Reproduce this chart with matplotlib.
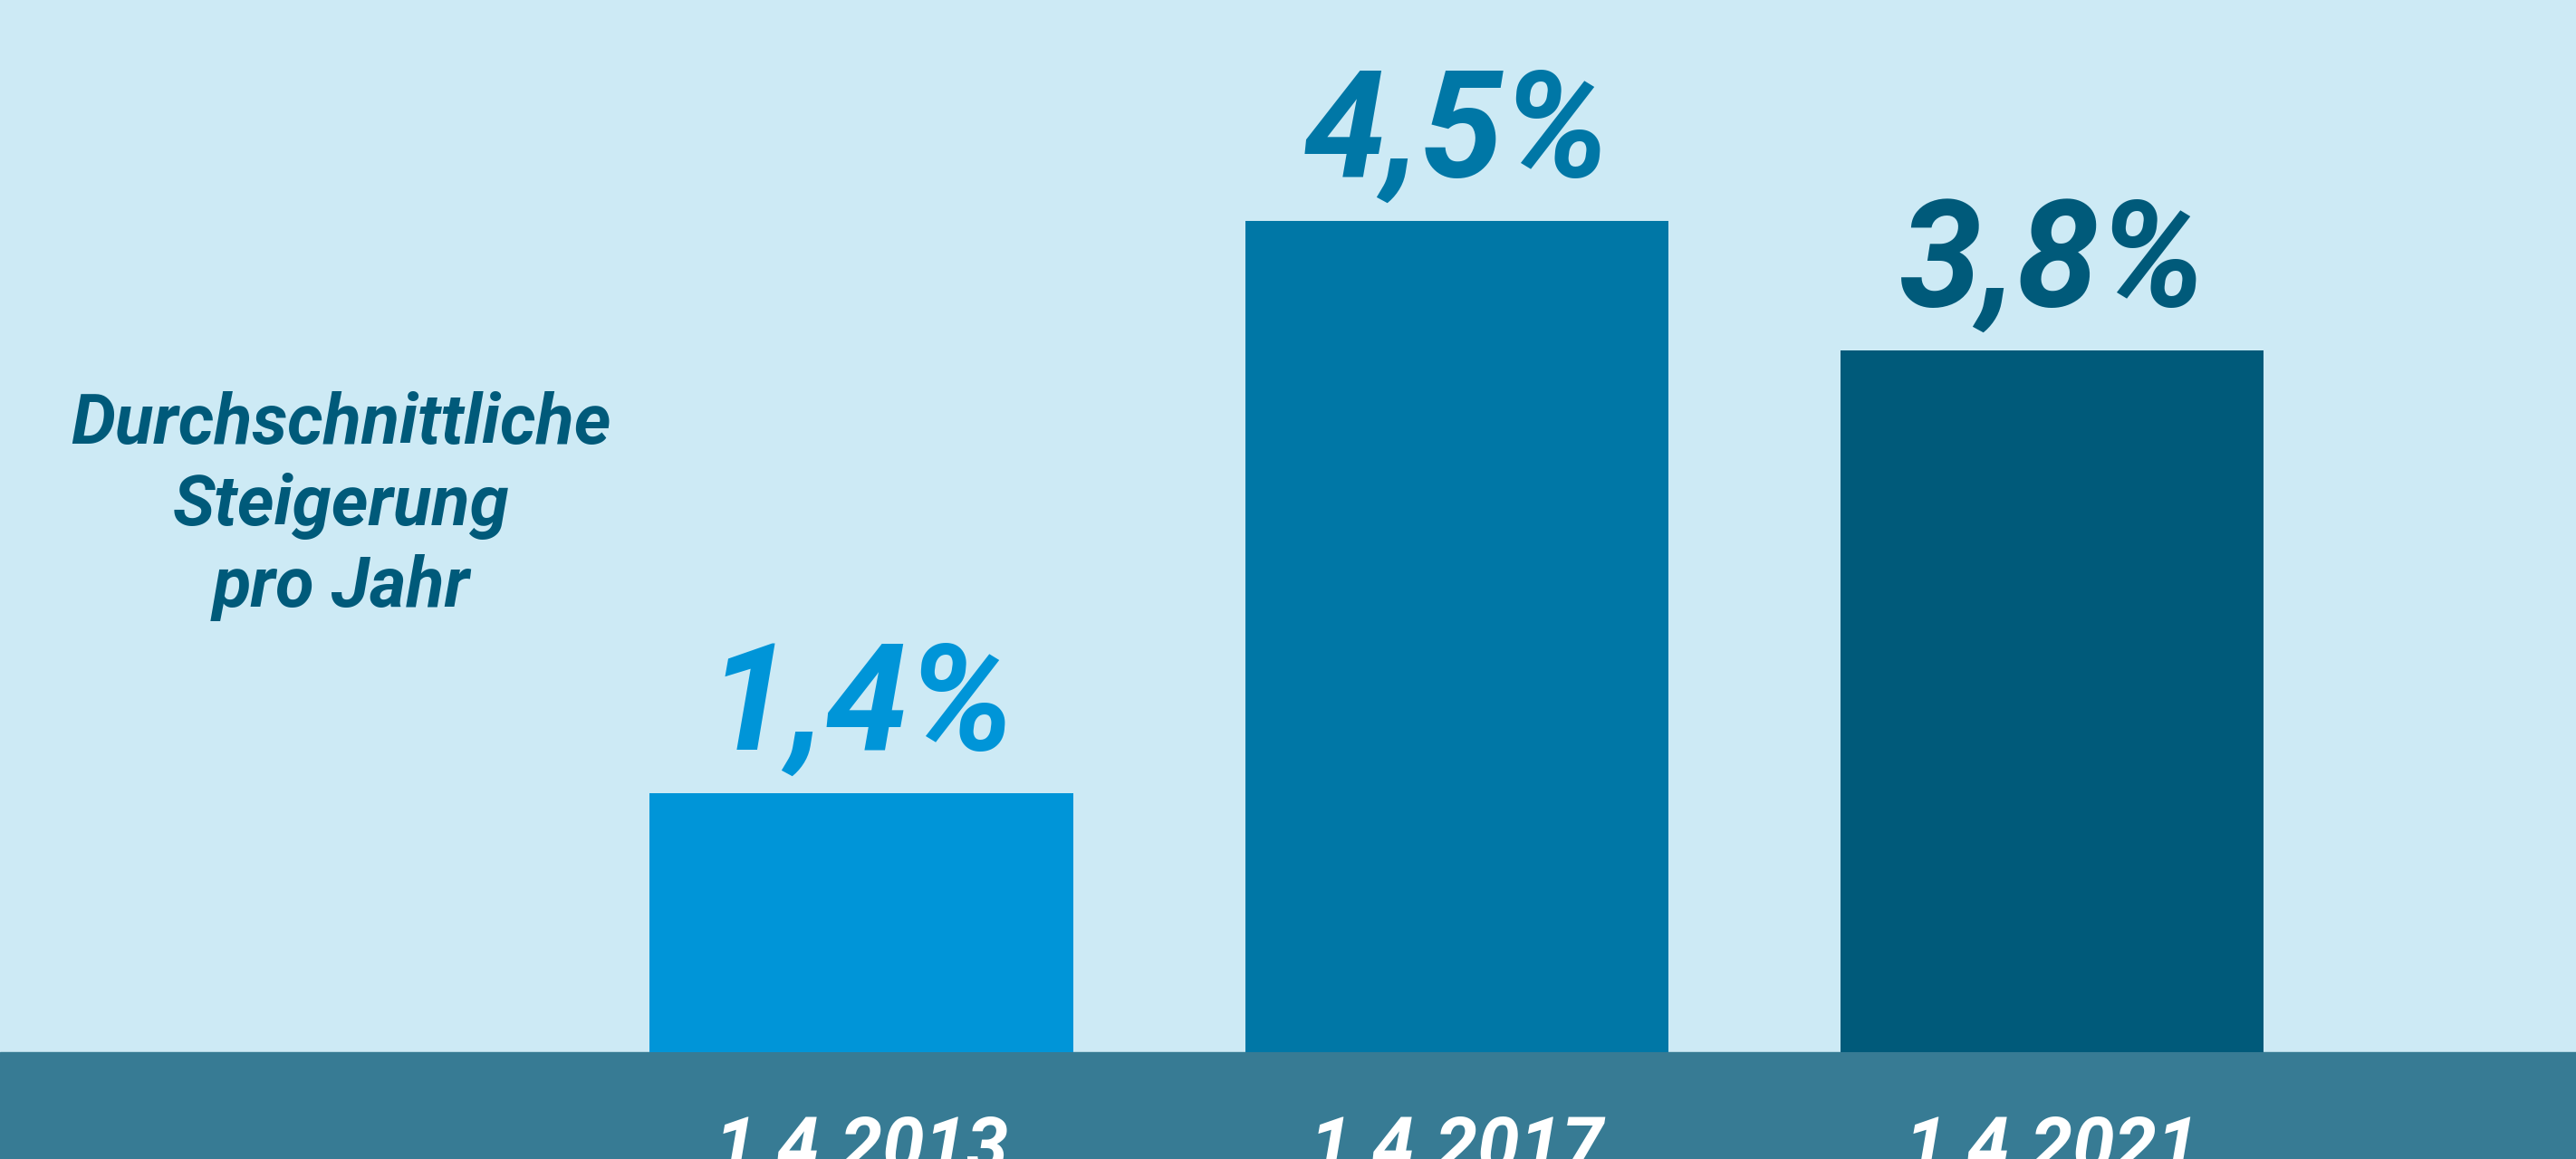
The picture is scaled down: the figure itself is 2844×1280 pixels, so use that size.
import matplotlib.pyplot as plt

# data
dates = ['1.4.2013', '1.4.2017', '1.4.2021']
growth = [1.4, 4.5, 3.8]
value_labels = ['1,4%', '4,5%', '3,8%']
side_lines = ['Durchschnittliche', 'Steigerung', 'pro Jahr']

bar_colors = ['#0095d8', '#0077a6', '#005a7a']
bg_color = '#cdeaf5'
band_color = '#377b94'
text_dark = '#005a7a'

font = ['Roboto', 'DejaVu Sans']

fig = plt.figure(figsize=(28.44, 12.8), dpi=100)
fig.patch.set_facecolor(bg_color)
ax = fig.add_axes([0, 0, 1, 1])
ax.set_facecolor(bg_color)

x = list(range(len(dates)))
ax.set_xlim(-1.4475, 2.881)
ax.set_ylim(-0.578, 5.696)

# dark band under the bars
ax.axhspan(-0.578, 0, color=band_color, zorder=1)
ax.bar(x, growth, width=0.711, color=bar_colors, zorder=2)

for xi, val, lab, col in zip(x, growth, value_labels, bar_colors):
    ax.text(xi, val + 0.24, lab, ha='center', va='baseline', color=col,
            fontsize=118, fontweight='bold', fontstyle='italic', family=font)

# date labels sit low in the band and run off the bottom edge, as in the original
for xi, d in zip(x, dates):
    ax.text(xi, -0.64, d, ha='center', va='baseline', color='white',
            fontsize=60, fontweight='bold', fontstyle='italic',
            family=font, clip_on=False)

# left side caption, one line at a time
for i, line in enumerate(side_lines):
    ax.text(-0.874, 3.294 - i * 0.441, line, ha='center', va='baseline',
            color=text_dark, fontsize=56, fontweight='bold', fontstyle='italic',
            family=font)

ax.axis('off')
fig.savefig('out.png', dpi=100, facecolor=bg_color)
